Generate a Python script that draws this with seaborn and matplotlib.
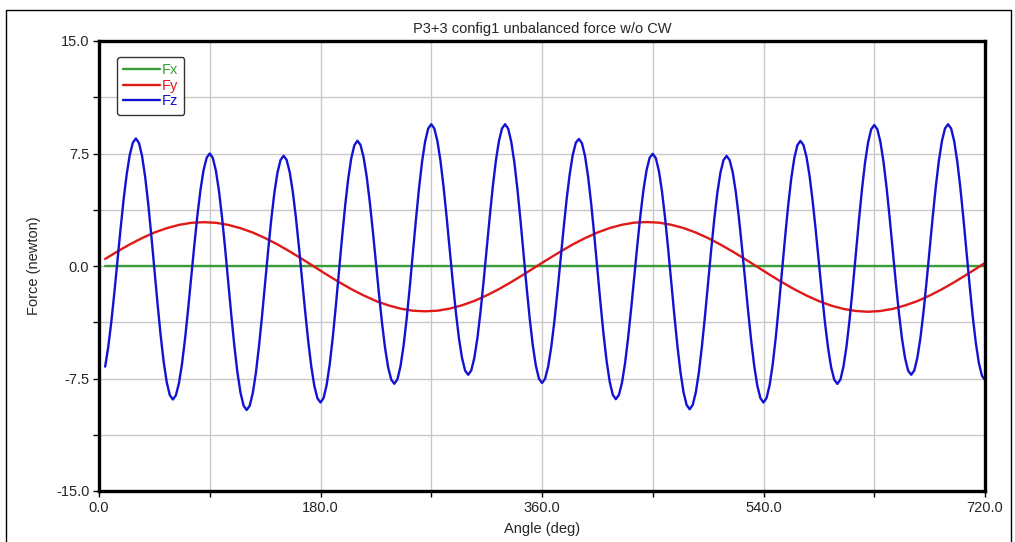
import numpy as np
import pandas as pd
import matplotlib
matplotlib.use("Agg")
import matplotlib.pyplot as plt
from matplotlib.ticker import MultipleLocator, FormatStrFormatter
from matplotlib.patches import Rectangle
import seaborn as sns

# ---------------- data ----------------
series_names = ["Fx", "Fy", "Fz"]
series_colors = ["#3a9d3a", "#e01818", "#1212d4"]

angle_fx = [5.0, 720.0]
fx_values = [0.0, 0.0]

angle_fy = list(range(5, 720, 10)) + [720]
fy_values = [
    0.47, 0.97, 1.44, 1.86, 2.23, 2.52, 2.74, 2.88, 2.92, 2.88, 2.74, 2.52,
    2.23, 1.86, 1.44, 0.97, 0.47, -0.05, -0.57, -1.07, -1.54, -1.96, -2.33, -2.62,
    -2.84, -2.98, -3.02, -2.98, -2.84, -2.62, -2.33, -1.96, -1.54, -1.07, -0.57, -0.05,
    0.46, 0.96, 1.44, 1.86, 2.23, 2.53, 2.75, 2.89, 2.93, 2.89, 2.75, 2.53,
    2.23, 1.86, 1.43, 0.96, 0.46, -0.06, -0.58, -1.08, -1.55, -1.97, -2.34, -2.64,
    -2.86, -3.00, -3.05, -3.00, -2.86, -2.63, -2.34, -1.97, -1.55, -1.08, -0.58, -0.06,
    0.21,
]

angle_fz = np.arange(5.0, 720.01, 2.5)
fz_values = [
    -6.71, -5.41, -3.73, -1.76, 0.35, 2.46, 4.43, 6.11, 7.41, 8.22, 8.50,
    8.20, 7.33, 5.95, 4.15, 2.05, -0.20, -2.45, -4.55, -6.35, -7.73, -8.60, -8.90,
    -8.62, -7.80, -6.50, -4.80, -2.82, -0.70, 1.42, 3.40, 5.10, 6.40, 7.22, 7.50,
    7.21, 6.35, 5.00, 3.23, 1.16, -1.05, -3.26, -5.33, -7.10, -8.45, -9.31, -9.60,
    -9.31, -8.46, -7.12, -5.36, -3.32, -1.13, 1.07, 3.11, 4.87, 6.21, 7.06, 7.35,
    7.07, 6.25, 4.94, 3.24, 1.25, -0.88, -3.00, -4.99, -6.69, -8.00, -8.82, -9.10,
    -8.80, -7.93, -6.55, -4.74, -2.63, -0.38, 1.88, 3.99, 5.80, 7.18, 8.05, 8.35,
    8.07, 7.26, 5.98, 4.30, 2.35, 0.25, -1.85, -3.80, -5.48, -6.77, -7.58, -7.85,
    -7.56, -6.69, -5.32, -3.53, -1.44, 0.80, 3.04, 5.13, 6.92, 8.29, 9.16, 9.45,
    9.17, 8.33, 7.01, 5.28, 3.26, 1.10, -1.06, -3.08, -4.81, -6.13, -6.97, -7.25,
    -6.97, -6.13, -4.81, -3.08, -1.06, 1.10, 3.26, 5.28, 7.01, 8.33, 9.17, 9.45,
    9.16, 8.29, 6.93, 5.14, 3.06, 0.83, -1.41, -3.49, -5.28, -6.64, -7.51, -7.80,
    -7.52, -6.71, -5.41, -3.73, -1.76, 0.35, 2.46, 4.43, 6.11, 7.41, 8.22, 8.47,
    8.18, 7.31, 5.93, 4.13, 2.03, -0.21, -2.45, -4.54, -6.33, -7.71, -8.58, -8.88,
    -8.60, -7.78, -6.48, -4.78, -2.81, -0.69, 1.42, 3.40, 5.10, 6.40, 7.22, 7.48,
    7.19, 6.34, 4.98, 3.22, 1.16, -1.04, -3.24, -5.30, -7.06, -8.41, -9.26, -9.55,
    -9.26, -8.42, -7.08, -5.33, -3.29, -1.10, 1.09, 3.13, 4.88, 6.22, 7.06, 7.34,
    7.06, 6.24, 4.93, 3.23, 1.24, -0.88, -3.00, -4.98, -6.68, -7.99, -8.81, -9.10,
    -8.80, -7.93, -6.55, -4.74, -2.63, -0.38, 1.88, 3.99, 5.80, 7.18, 8.05, 8.34,
    8.06, 7.25, 5.97, 4.29, 2.34, 0.24, -1.86, -3.80, -5.48, -6.77, -7.58, -7.86,
    -7.57, -6.70, -5.33, -3.54, -1.46, 0.78, 3.01, 5.09, 6.88, 8.24, 9.11, 9.40,
    9.12, 8.28, 6.96, 5.24, 3.23, 1.08, -1.08, -3.09, -4.81, -6.13, -6.97, -7.25,
    -6.97, -6.13, -4.81, -3.08, -1.06, 1.10, 3.26, 5.28, 7.01, 8.33, 9.17, 9.45,
    9.16, 8.31, 6.95, 5.19, 3.13, 0.93, -1.28, -3.34, -5.10, -6.46, -7.31, -7.60,
]

title = "P3+3 config1 unbalanced force w/o CW"
x_label = "Angle (deg)"
y_label = "Force (newton)"

# ---------------- build long-form table ----------------
df = pd.concat([
    pd.DataFrame({"Angle": angle_fx, "Force": fx_values, "Series": "Fx"}),
    pd.DataFrame({"Angle": angle_fy, "Force": fy_values, "Series": "Fy"}),
    pd.DataFrame({"Angle": angle_fz, "Force": fz_values, "Series": "Fz"}),
], ignore_index=True)

sns.set_style("white")
plt.rcParams["font.family"] = ["Liberation Sans", "DejaVu Sans"]
FS = 10.5

fig = plt.figure(figsize=(10.15, 5.42), dpi=100)
ax = fig.add_axes([99 / 1015, 1 - 491 / 542, 886 / 1015, 450 / 542])

palette = dict(zip(series_names, series_colors))
sns.lineplot(data=df, x="Angle", y="Force", hue="Series", hue_order=series_names,
             palette=palette, estimator=None, sort=False, linewidth=1.7, ax=ax)

ax.set_xlim(0, 720)
ax.set_ylim(-15, 15)
ax.xaxis.set_major_locator(MultipleLocator(180))
ax.xaxis.set_minor_locator(MultipleLocator(90))
ax.yaxis.set_major_locator(MultipleLocator(7.5))
ax.yaxis.set_minor_locator(MultipleLocator(3.75))
ax.xaxis.set_major_formatter(FormatStrFormatter("%.1f"))
ax.yaxis.set_major_formatter(FormatStrFormatter("%.1f"))
ax.grid(True, which="both", color="#c8c8c8", linewidth=1.0)
ax.set_axisbelow(True)
ax.tick_params(axis="both", which="both", direction="out", length=4, width=1,
               color="black", labelsize=FS, pad=3, left=True, bottom=True)

for sp in ax.spines.values():
    sp.set_visible(True)
    sp.set_color("black")
    sp.set_linewidth(2.4)

ax.set_title(title, fontsize=FS, pad=6)
ax.set_xlabel(x_label, fontsize=FS, labelpad=5)
ax.set_ylabel(y_label, fontsize=FS, labelpad=11)

handles, labels = ax.get_legend_handles_labels()
leg = ax.legend(handles, labels, loc="upper left", bbox_to_anchor=(0.02, 0.965),
                borderaxespad=0, fontsize=FS, handlelength=2.5, handletextpad=0.12,
                labelspacing=0.1, borderpad=0.45, frameon=True, fancybox=True,
                framealpha=1)
leg.get_frame().set_edgecolor("#333333")
leg.get_frame().set_linewidth(1.0)
for txt, col in zip(leg.get_texts(), series_colors):
    txt.set_color(col)

fig.add_artist(Rectangle((6 / 1015, -0.02), 1005 / 1015, 1.02 - 10 / 542,
                         transform=fig.transFigure, fill=False,
                         edgecolor="black", linewidth=1.0))

fig.savefig("out.png", dpi=100)
